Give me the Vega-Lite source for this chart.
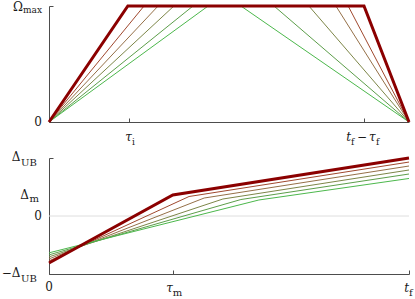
{
  "$schema": "https://vega.github.io/schema/vega-lite/v6.json",
  "background": "white",
  "padding": {"left": 1, "top": 0, "right": 2, "bottom": 0},
  "spacing": 36,
  "bounds": "flush",
  "config": {
    "view": {"stroke": null},
    "font": "DejaVu Serif",
    "axis": {
      "domainColor": "#4d4d4d", "tickColor": "#4d4d4d", "domainWidth": 1, "tickWidth": 1,
      "tickSize": -4, "labels": false, "grid": false, "title": null
    },
    "text": {"font": "DejaVu Serif", "color": "#1a1a1a", "baseline": "alphabetic"}
  },
  "datasets": {
    "omega": [
      {"series": "A", "t": 0, "omega": 0}, {"series": "A", "t": 0.219, "omega": 1}, {"series": "A", "t": 0.875, "omega": 1}, {"series": "A", "t": 1, "omega": 0},
      {"series": "B", "t": 0, "omega": 0}, {"series": "B", "t": 0.264, "omega": 1}, {"series": "B", "t": 0.831, "omega": 1}, {"series": "B", "t": 1, "omega": 0},
      {"series": "C", "t": 0, "omega": 0}, {"series": "C", "t": 0.303, "omega": 1}, {"series": "C", "t": 0.797, "omega": 1}, {"series": "C", "t": 1, "omega": 0},
      {"series": "D", "t": 0, "omega": 0}, {"series": "D", "t": 0.347, "omega": 1}, {"series": "D", "t": 0.722, "omega": 1}, {"series": "D", "t": 1, "omega": 0},
      {"series": "E", "t": 0, "omega": 0}, {"series": "E", "t": 0.4, "omega": 1}, {"series": "E", "t": 0.625, "omega": 1}, {"series": "E", "t": 1, "omega": 0},
      {"series": "F", "t": 0, "omega": 0}, {"series": "F", "t": 0.442, "omega": 1}, {"series": "F", "t": 0.533, "omega": 1}, {"series": "F", "t": 1, "omega": 0}
    ],
    "delta": [
      {"series": "A", "t": 0, "delta": -0.81}, {"series": "A", "t": 0.344, "delta": 0.362}, {"series": "A", "t": 1, "delta": 1.0},
      {"series": "B", "t": 0, "delta": -0.775}, {"series": "B", "t": 0.389, "delta": 0.336}, {"series": "B", "t": 1, "delta": 0.93},
      {"series": "C", "t": 0, "delta": -0.74}, {"series": "C", "t": 0.431, "delta": 0.31}, {"series": "C", "t": 1, "delta": 0.862},
      {"series": "D", "t": 0, "delta": -0.705}, {"series": "D", "t": 0.483, "delta": 0.293}, {"series": "D", "t": 1, "delta": 0.793},
      {"series": "E", "t": 0, "delta": -0.67}, {"series": "E", "t": 0.533, "delta": 0.284}, {"series": "E", "t": 1, "delta": 0.724},
      {"series": "F", "t": 0, "delta": -0.635}, {"series": "F", "t": 0.583, "delta": 0.276}, {"series": "F", "t": 1, "delta": 0.647}
    ]
  },
  "vconcat": [
    {
      "width": 360, "height": 116,
      "layer": [
        {
          "data": {"name": "omega"},
          "transform": [{"filter": "datum.series != 'A'"}],
          "mark": {"type": "line", "strokeWidth": 1},
          "encoding": {
            "x": {"field": "t", "type": "quantitative", "scale": {"domain": [0, 1], "nice": false}, "axis": {"values": [0.222, 0.875], "title": null}},
            "y": {"field": "omega", "type": "quantitative", "scale": {"domain": [0, 1], "nice": false}, "axis": {"values": [0, 1], "title": null}},
            "color": {"field": "series", "type": "nominal", "legend": null,
              "scale": {"domain": ["A", "B", "C", "D", "E", "F"], "range": ["#8b0000", "#a0482e", "#957048", "#7d8648", "#5c9e4a", "#4cb84c"]}}
          }
        },
        {
          "data": {"name": "omega"},
          "transform": [{"filter": "datum.series == 'A'"}],
          "mark": {"type": "line", "strokeWidth": 3, "color": "#8b0000", "strokeJoin": "miter"},
          "encoding": {
            "x": {"field": "t", "type": "quantitative"},
            "y": {"field": "omega", "type": "quantitative"}
          }
        },
        {
          "data": {"values": [{"label": "Ω"}]},
          "mark": {"type": "text", "font": "DejaVu Serif", "align": "right", "dx": -26, "dy": 5, "fontSize": 12},
          "encoding": {"x": {"datum": 0}, "y": {"datum": 1}, "text": {"field": "label"}}
        },
        {
          "data": {"values": [{"label": "max"}]},
          "mark": {"type": "text", "font": "DejaVu Serif", "align": "left", "dx": -26, "dy": 6.5, "fontSize": 9},
          "encoding": {"x": {"datum": 0}, "y": {"datum": 1}, "text": {"field": "label"}}
        },
        {
          "data": {"values": [{"label": "0"}]},
          "mark": {"type": "text", "font": "DejaVu Serif", "align": "right", "dx": -7, "dy": 4, "fontSize": 12},
          "encoding": {"x": {"datum": 0}, "y": {"datum": 0}, "text": {"field": "label"}}
        },
        {
          "data": {"values": [{"label": "τ"}]},
          "mark": {"type": "text", "font": "DejaVu Serif", "align": "right", "dx": 3, "dy": 19, "fontSize": 12, "fontStyle": "italic"},
          "encoding": {"x": {"datum": 0.222}, "y": {"datum": 0}, "text": {"field": "label"}}
        },
        {
          "data": {"values": [{"label": "i"}]},
          "mark": {"type": "text", "font": "DejaVu Serif", "align": "left", "dx": 3, "dy": 23, "fontSize": 9},
          "encoding": {"x": {"datum": 0.222}, "y": {"datum": 0}, "text": {"field": "label"}}
        },
        {
          "data": {"values": [{"label": "t"}]},
          "mark": {"type": "text", "font": "DejaVu Serif", "align": "right", "dx": -13, "dy": 19, "fontSize": 12, "fontStyle": "italic"},
          "encoding": {"x": {"datum": 0.875}, "y": {"datum": 0}, "text": {"field": "label"}}
        },
        {
          "data": {"values": [{"label": "f"}]},
          "mark": {"type": "text", "font": "DejaVu Serif", "align": "left", "dx": -13, "dy": 23, "fontSize": 9},
          "encoding": {"x": {"datum": 0.875}, "y": {"datum": 0}, "text": {"field": "label"}}
        },
        {
          "data": {"values": [{"label": "−"}]},
          "mark": {"type": "text", "font": "DejaVu Serif", "align": "center", "dx": -2, "dy": 19, "fontSize": 12},
          "encoding": {"x": {"datum": 0.875}, "y": {"datum": 0}, "text": {"field": "label"}}
        },
        {
          "data": {"values": [{"label": "τ"}]},
          "mark": {"type": "text", "font": "DejaVu Serif", "align": "left", "dx": 5, "dy": 19, "fontSize": 12, "fontStyle": "italic"},
          "encoding": {"x": {"datum": 0.875}, "y": {"datum": 0}, "text": {"field": "label"}}
        },
        {
          "data": {"values": [{"label": "f"}]},
          "mark": {"type": "text", "font": "DejaVu Serif", "align": "left", "dx": 12, "dy": 23, "fontSize": 9},
          "encoding": {"x": {"datum": 0.875}, "y": {"datum": 0}, "text": {"field": "label"}}
        }
      ]
    },
    {
      "width": 360, "height": 116,
      "layer": [
        {
          "data": {"values": [{"level": 0}]},
          "mark": {"type": "rule", "color": "#dedede", "strokeWidth": 1},
          "encoding": {"y": {"field": "level", "type": "quantitative"}}
        },
        {
          "data": {"name": "delta"},
          "transform": [{"filter": "datum.series != 'A'"}],
          "mark": {"type": "line", "strokeWidth": 1},
          "encoding": {
            "x": {"field": "t", "type": "quantitative", "scale": {"domain": [0, 1], "nice": false}, "axis": {"values": [0, 0.344, 1], "title": null}},
            "y": {"field": "delta", "type": "quantitative", "scale": {"domain": [-1, 1], "nice": false}, "axis": {"values": [-1, 0, 0.345, 1], "title": null}},
            "color": {"field": "series", "type": "nominal", "legend": null,
              "scale": {"domain": ["A", "B", "C", "D", "E", "F"], "range": ["#8b0000", "#a0482e", "#957048", "#7d8648", "#5c9e4a", "#4cb84c"]}}
          }
        },
        {
          "data": {"name": "delta"},
          "transform": [{"filter": "datum.series == 'A'"}],
          "mark": {"type": "line", "strokeWidth": 3, "color": "#8b0000", "strokeJoin": "miter"},
          "encoding": {
            "x": {"field": "t", "type": "quantitative"},
            "y": {"field": "delta", "type": "quantitative"}
          }
        },
        {
          "data": {"values": [{"label": "Δ", "pos": 1}, {"label": "−Δ", "pos": -1}]},
          "mark": {"type": "text", "font": "DejaVu Serif", "align": "right", "dx": -28.5, "dy": 3, "fontSize": 12},
          "encoding": {"x": {"datum": 0}, "y": {"field": "pos", "type": "quantitative"}, "text": {"field": "label"}}
        },
        {
          "data": {"values": [{"label": "UB", "pos": 1}, {"label": "UB", "pos": -1}]},
          "mark": {"type": "text", "font": "DejaVu Serif", "align": "left", "dx": -28, "dy": 8, "fontSize": 10},
          "encoding": {"x": {"datum": 0}, "y": {"field": "pos", "type": "quantitative"}, "text": {"field": "label"}}
        },
        {
          "data": {"values": [{"label": "Δ", "pos": 0.345}]},
          "mark": {"type": "text", "font": "DejaVu Serif", "align": "right", "dx": -20, "dy": 3, "fontSize": 12},
          "encoding": {"x": {"datum": 0}, "y": {"field": "pos", "type": "quantitative"}, "text": {"field": "label"}}
        },
        {
          "data": {"values": [{"label": "m", "pos": 0.345}]},
          "mark": {"type": "text", "font": "DejaVu Serif", "align": "left", "dx": -19.5, "dy": 6, "fontSize": 10},
          "encoding": {"x": {"datum": 0}, "y": {"field": "pos", "type": "quantitative"}, "text": {"field": "label"}}
        },
        {
          "data": {"values": [{"label": "0", "pos": 0}]},
          "mark": {"type": "text", "font": "DejaVu Serif", "align": "right", "dx": -7, "dy": 4, "fontSize": 12},
          "encoding": {"x": {"datum": 0}, "y": {"field": "pos", "type": "quantitative"}, "text": {"field": "label"}}
        },
        {
          "data": {"values": [{"label": "0", "pos": 0}]},
          "mark": {"type": "text", "font": "DejaVu Serif", "align": "center", "dy": 17, "fontSize": 12},
          "encoding": {"x": {"field": "pos", "type": "quantitative"}, "y": {"datum": -1}, "text": {"field": "label"}}
        },
        {
          "data": {"values": [{"label": "τ", "pos": 0.344}, {"label": "t", "pos": 1}]},
          "mark": {"type": "text", "font": "DejaVu Serif", "align": "right", "dx": 0, "dy": 18, "fontSize": 12, "fontStyle": "italic"},
          "encoding": {"x": {"field": "pos", "type": "quantitative"}, "y": {"datum": -1}, "text": {"field": "label"}}
        },
        {
          "data": {"values": [{"label": "m", "pos": 0.344}, {"label": "f", "pos": 1}]},
          "mark": {"type": "text", "font": "DejaVu Serif", "align": "left", "dx": 0, "dy": 22, "fontSize": 10},
          "encoding": {"x": {"field": "pos", "type": "quantitative"}, "y": {"datum": -1}, "text": {"field": "label"}}
        }
      ]
    }
  ]
}
